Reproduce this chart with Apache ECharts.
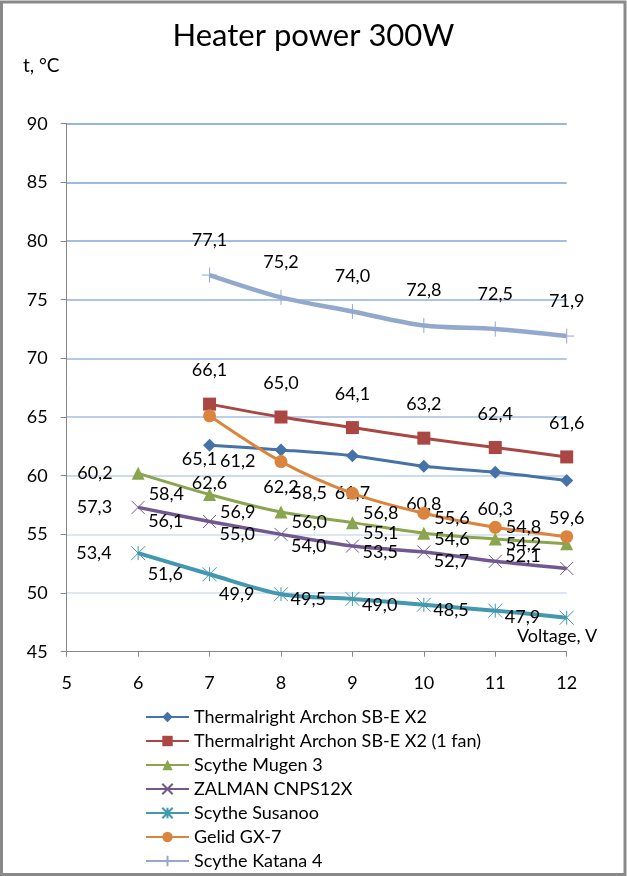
<!DOCTYPE html>
<html>
<head>
<meta charset="utf-8">
<script src="https://cdn.jsdelivr.net/npm/echarts/dist/echarts.min.js"></script>
<style>
html,body{margin:0;padding:0;background:#fff;}
#chart{width:627px;height:876px;}
</style>
</head>
<body>
<div id="chart"></div>
<script>
// ---- data ----
const titleText = 'Heater power 300W';
const yAxisTitle = 't, °C';
const xAxisTitle = 'Voltage, V';
const xTicks = [5, 6, 7, 8, 9, 10, 11, 12];
const yTicks = [45, 50, 55, 60, 65, 70, 75, 80, 85, 90];
const voltsFrom6 = [6, 7, 8, 9, 10, 11, 12];
const voltsFrom7 = [7, 8, 9, 10, 11, 12];

const seriesNames = [
  'Thermalright Archon SB-E X2',
  'Thermalright Archon SB-E X2 (1 fan)',
  'Scythe Mugen 3',
  'ZALMAN CNPS12X',
  'Scythe Susanoo',
  'Gelid GX-7',
  'Scythe Katana 4'
];
const archonX2      = [62.6, 62.2, 61.7, 60.8, 60.3, 59.6];
const archonX2OneFan= [66.1, 65.0, 64.1, 63.2, 62.4, 61.6];
const mugen3        = [60.2, 58.4, 56.9, 56.0, 55.1, 54.6, 54.2];
const zalman        = [57.3, 56.1, 55.0, 54.0, 53.5, 52.7, 52.1];
const susanoo       = [53.4, 51.6, 49.9, 49.5, 49.0, 48.5, 47.9];
const gelid         = [65.1, 61.2, 58.5, 56.8, 55.6, 54.8];
const katana        = [77.1, 75.2, 74.0, 72.8, 72.5, 71.9];

// ---- styles ----
const FONT = 'Lato';
const colors = ['#4572A7', '#AA4643', '#89A54E', '#71588F', '#4198AF', '#DB843D', '#92A8CD'];
const X_PATH = 'path://M0,0L10,10M10,0L0,10';
const STAR_PATH = 'path://M0,0L10,10M10,0L0,10M5,0L5,10';
const PLUS_PATH = 'path://M0,5L10,5M5,0L5,10';

const gridColors = ['#dde7f3', '#dde7f3', '#cbdbef', '#bccfe9', '#b3c9e7', '#abc4e5', '#a3bee3', '#9cb9e1', '#95b5df', '#8fb1dd'];

function zip(xs, ys) { return xs.map((x, i) => [x, ys[i]]); }
function fmt(p) { return p.value[1].toFixed(1).replace('.', ','); }

const labelBase = { show: true, fontFamily: FONT, fontSize: 18, color: '#000', formatter: fmt };

function makeSeries(idx, xs, ys, cfg, overrides) {
  const c = colors[idx];
  const data = zip(xs, ys).map((v, i) => {
    const o = overrides && overrides[i];
    return o ? { value: v, label: o } : { value: v };
  });
  return {
    name: seriesNames[idx],
    type: 'line',
    smooth: 0.3,
    data: data,
    symbol: cfg.symbol,
    symbolSize: cfg.symbolSize,
    showAllSymbol: true,
    lineStyle: { color: c, width: cfg.width },
    itemStyle: cfg.stroke ? { color: c, borderColor: c, borderWidth: 1 } : { color: c, borderWidth: 0 },
    label: Object.assign({}, labelBase, { position: cfg.pos, distance: cfg.dist }),
    emphasis: { disabled: true },
    z: 2 + idx
  };
}

const series = [
  makeSeries(0, voltsFrom7, archonX2, { symbol: 'diamond', symbolSize: 13, width: 3, pos: 'bottom', dist: 22 }),
  makeSeries(1, voltsFrom7, archonX2OneFan, { symbol: 'rect', symbolSize: 13, width: 3, pos: 'top', dist: 18 }),
  makeSeries(2, voltsFrom6, mugen3, { symbol: 'triangle', symbolSize: 13, width: 3, pos: 'left', dist: 19 }),
  makeSeries(3, voltsFrom6, zalman, { symbol: X_PATH, symbolSize: 13, width: 3.5, pos: 'left', dist: 19, stroke: true },
    { 6: { offset: [0, -12] } }),
  makeSeries(4, voltsFrom6, susanoo, { symbol: STAR_PATH, symbolSize: 14, width: 4, pos: 'left', dist: 19, stroke: true }),
  makeSeries(5, voltsFrom7, gelid, { symbol: 'circle', symbolSize: 13, width: 3, pos: 'left', dist: 19 },
    { 0: { position: 'bottom', distance: 28, offset: [-10, 0] }, 4: { offset: [0, -9] }, 5: { offset: [0, -10] } }),
  makeSeries(6, voltsFrom7, katana, { symbol: PLUS_PATH, symbolSize: 15, width: 4.5, pos: 'top', dist: 18, stroke: true })
];

const chart = echarts.init(document.getElementById('chart'), null, { renderer: 'canvas' });
chart.setOption({
  animation: false,
  backgroundColor: '#fff',
  title: {
    text: titleText,
    left: 'center',
    top: 15,
    textStyle: { fontFamily: FONT, fontSize: 31, fontWeight: 'normal', color: '#000' }
  },
  grid: { left: 66.7, right: 60.3, top: 123.7, bottom: 224.3, containLabel: false },
  xAxis: {
    type: 'value',
    min: xTicks[0],
    max: xTicks[xTicks.length - 1],
    interval: 1,
    axisLine: { show: true, lineStyle: { color: '#868686', width: 1 } },
    axisTick: { show: true, length: 5, lineStyle: { color: '#868686' } },
    axisLabel: { margin: 22, fontFamily: FONT, fontSize: 18, color: '#000' },
    splitLine: { show: false }
  },
  yAxis: {
    type: 'value',
    min: yTicks[0],
    max: yTicks[yTicks.length - 1],
    interval: 5,
    axisLine: { show: true, lineStyle: { color: '#868686', width: 1 } },
    axisTick: { show: true, length: 6, lineStyle: { color: '#868686' } },
    axisLabel: { margin: 19, fontFamily: FONT, fontSize: 18, color: '#000' },
    splitLine: { show: true, showMinLine: false, lineStyle: { color: gridColors, width: 2 } }
  },
  legend: {
    orient: 'vertical',
    left: 145,
    top: 708,
    padding: 0,
    itemWidth: 43,
    itemHeight: 13,
    itemGap: 6,
    selectedMode: false,
    textStyle: { fontFamily: FONT, fontSize: 18, color: '#000', lineHeight: 18 },
    data: seriesNames
  },
  graphic: [
    { type: 'rect', silent: true, shape: { x: 1.5, y: 2, width: 623.5, height: 872.5 },
      style: { fill: 'none', stroke: '#898989', lineWidth: 3 }, z: 100 },
    { type: 'text', left: 23, top: 56, silent: true,
      style: { text: yAxisTitle, font: '19px ' + FONT, fill: '#000' } },
    { type: 'text', left: 517, top: 627, silent: true,
      style: { text: xAxisTitle, font: '18px ' + FONT, fill: '#000' } }
  ],
  series: series
});
</script>
</body>
</html>
